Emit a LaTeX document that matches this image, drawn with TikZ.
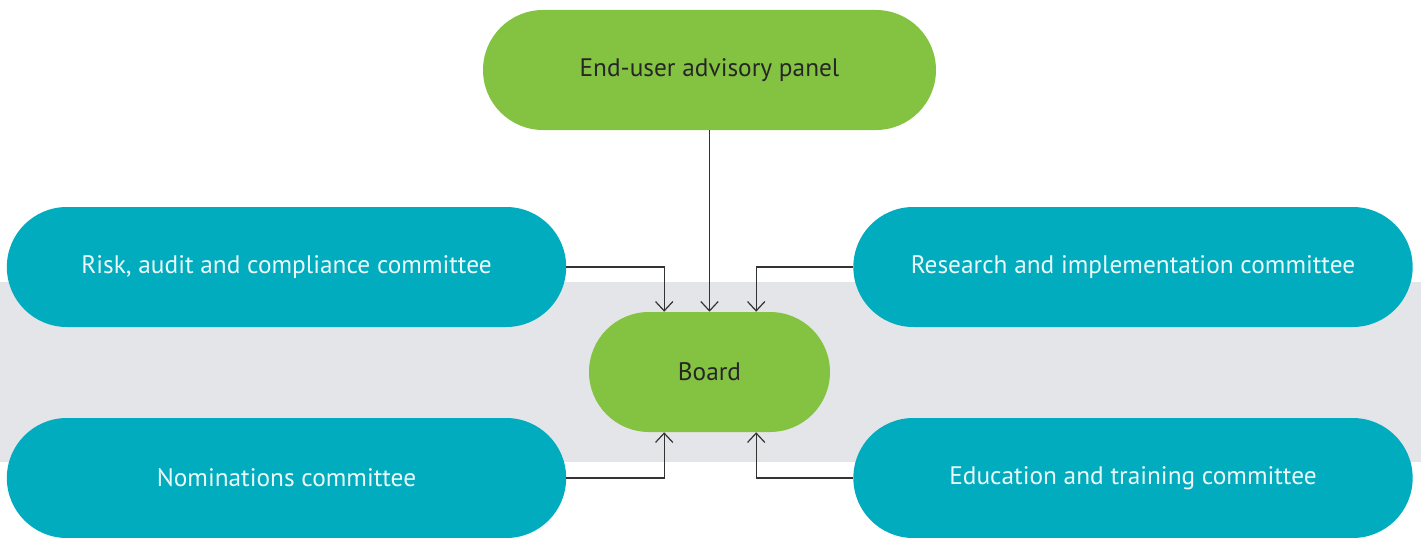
\documentclass[tikz,border=0pt]{standalone}
\usepackage{fontspec}
\setmainfont{PT Sans}
\usepackage{xcolor}
\usepackage{tikz}
\usetikzlibrary{arrows.meta}

\definecolor{leafgreen}{HTML}{84C341}
\definecolor{seateal}{HTML}{00ACBE}
\definecolor{bandgray}{HTML}{E4E5E9}
\definecolor{linegray}{HTML}{333333}

\tikzset{
    pill/.style={rounded corners=45pt, minimum height=90pt, inner sep=0pt,
        font=\fontsize{19}{22}\selectfont},
    greenpill/.style={pill, fill=leafgreen, text=black!85},
    tealpill/.style={pill, fill=seateal, text=white!92!seateal, minimum width=419.5pt},
    link/.style={draw=linegray, line width=0.9pt, -{Straight Barb[length=7pt,width=13pt]}}
}

\begin{document}
\begin{tikzpicture}[x=0.75pt, y=0.75pt]
    % page size and grey band behind the board
    \useasboundingbox (0,0) rectangle (1421,537);
    \fill[bandgray] (0,75) rectangle (1421,255);

    % the nodes
    \node[greenpill, minimum width=339.75pt] (panel) at (709.5,467) {End-user advisory panel};
    \node[greenpill, minimum width=180.75pt] (board) at (709.5,165) {Board};
    \node[tealpill] (risk) at (286.5,270) {Risk, audit and compliance committee};
    \node[tealpill] (research) at (1133,270) {Research and implementation committee};
    \node[tealpill] (nominations) at (286.5,59) {Nominations committee};
    \node[tealpill] (education) at (1133,59) {Education and training committee};

    % connectors into the board
    \draw[link] (panel.south) -- (board.north);
    \draw[link] (risk.east) -| ([xshift=-34pt]board.north);
    \draw[link] (research.west) -| ([xshift=35pt]board.north);
    \draw[link] (nominations.east) -| ([xshift=-34pt]board.south);
    \draw[link] (education.west) -| ([xshift=35pt]board.south);
\end{tikzpicture}
\end{document}
